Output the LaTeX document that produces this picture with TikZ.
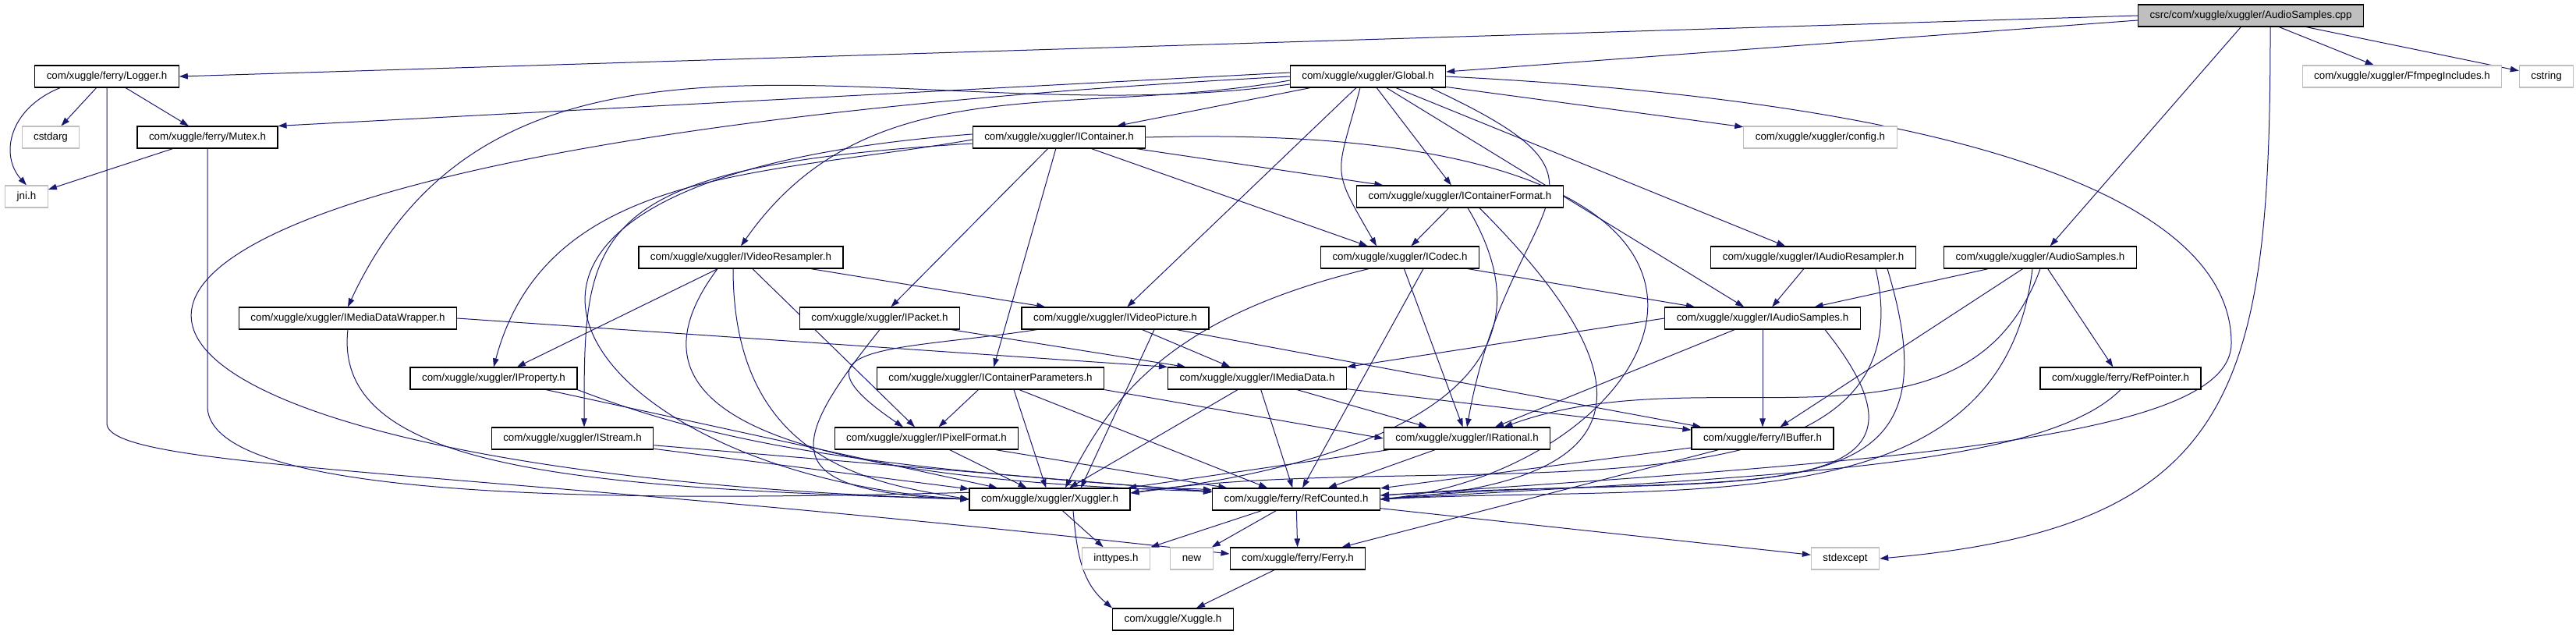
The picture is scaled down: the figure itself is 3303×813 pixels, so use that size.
\documentclass[tikz,border=0pt]{standalone}
\usepackage{fontspec}
\setmainfont{Liberation Sans}
\usetikzlibrary{arrows.meta}
\definecolor{incblue}{HTML}{191970}
\definecolor{sysgray}{HTML}{BFBFBF}
\pgfdeclarelayer{bg}
\pgfdeclarelayer{edges}
\pgfsetlayers{bg,edges,main}

\begin{document}
\begin{tikzpicture}[x=0.1mm, y=0.1mm,
    every node/.style={font=\fontsize{3.8}{4.5}\selectfont},
    hfile/.style={draw=black, fill=white, line width=0.12mm, minimum height=2.8mm, inner xsep=1.5mm, inner ysep=0pt},
    sysfile/.style={hfile, draw=sysgray},
    srcfile/.style={hfile, fill=sysgray},
    inc/.style={-{Triangle[length=1.1mm, width=0.75mm]}, draw=incblue, line width=0.1mm}]
    \useasboundingbox (0,0) rectangle (3303,-813);
    \begin{pgfonlayer}{bg}
        \fill[white] (0,0) rectangle (3303,-813);
    \end{pgfonlayer}

    % the source file
    \node[srcfile] (cpp) at (2886,-20) {csrc/com/xuggle/xuggler/AudioSamples.cpp};

    % rank 1
    \node[hfile] (logger) at (137,-98) {com/xuggle/ferry/Logger.h};
    \node[hfile] (global) at (1754,-98) {com/xuggle/xuggler/Global.h};
    \node[sysfile] (ffmpeg) at (3080,-98) {com/xuggle/xuggler/FfmpegIncludes.h};
    \node[sysfile] (cstring) at (3265,-98) {cstring};

    % rank 2
    \node[sysfile] (cstdarg) at (65,-176) {cstdarg};
    \node[hfile] (mutex) at (266,-176) {com/xuggle/ferry/Mutex.h};
    \node[hfile] (icontainer) at (1358,-176) {com/xuggle/xuggler/IContainer.h};
    \node[sysfile] (config) at (2334,-176) {com/xuggle/xuggler/config.h};

    % rank 3
    \node[sysfile] (jni) at (34,-252) {jni.h};
    \node[hfile] (icformat) at (1872,-252) {com/xuggle/xuggler/IContainerFormat.h};

    % rank 4
    \node[hfile] (ivresampler) at (950,-330) {com/xuggle/xuggler/IVideoResampler.h};
    \node[hfile] (icodec) at (1795,-330) {com/xuggle/xuggler/ICodec.h};
    \node[hfile] (iaresampler) at (2325,-330) {com/xuggle/xuggler/IAudioResampler.h};
    \node[hfile] (audiosamples) at (2616,-330) {com/xuggle/xuggler/AudioSamples.h};

    % rank 5
    \node[hfile] (imdwrapper) at (446,-408) {com/xuggle/xuggler/IMediaDataWrapper.h};
    \node[hfile] (ipacket) at (1128,-408) {com/xuggle/xuggler/IPacket.h};
    \node[hfile] (ivpicture) at (1430,-408) {com/xuggle/xuggler/IVideoPicture.h};
    \node[hfile] (iasamples) at (2260,-408) {com/xuggle/xuggler/IAudioSamples.h};

    % rank 6
    \node[hfile] (iproperty) at (633,-485) {com/xuggle/xuggler/IProperty.h};
    \node[hfile] (icparams) at (1270,-485) {com/xuggle/xuggler/IContainerParameters.h};
    \node[hfile] (imediadata) at (1612,-485) {com/xuggle/xuggler/IMediaData.h};
    \node[hfile] (refpointer) at (2719,-485) {com/xuggle/ferry/RefPointer.h};

    % rank 7
    \node[hfile] (istream) at (734,-562) {com/xuggle/xuggler/IStream.h};
    \node[hfile] (ipixfmt) at (1188,-562) {com/xuggle/xuggler/IPixelFormat.h};
    \node[hfile] (irational) at (1881,-562) {com/xuggle/xuggler/IRational.h};
    \node[hfile] (ibuffer) at (2260,-562) {com/xuggle/ferry/IBuffer.h};

    % rank 8
    \node[hfile] (xuggler) at (1346,-640) {com/xuggle/xuggler/Xuggler.h};
    \node[hfile] (refcounted) at (1662,-640) {com/xuggle/ferry/RefCounted.h};

    % rank 9 and 10
    \node[sysfile] (inttypes) at (1431,-716) {inttypes.h};
    \node[sysfile] (stdnew) at (1528,-716) {new};
    \node[hfile] (ferry) at (1664,-716) {com/xuggle/ferry/Ferry.h};
    \node[sysfile] (stdexcept) at (2366,-716) {stdexcept};
    \node[hfile] (xuggle) at (1504,-794) {com/xuggle/Xuggle.h};

    \begin{pgfonlayer}{edges}
    % AudioSamples.cpp
    \draw[inc] (cpp.west) -- (logger.east);
    \draw[inc] ([yshift=-0.6mm]cpp.west) -- ([yshift=0.6mm]global.east);
    \draw[inc] (cpp) -- (audiosamples);
    \draw[inc] (cpp) -- (ffmpeg);
    \draw[inc] (cpp) -- (cstring);
    \draw[inc] ([xshift=2.5mm]cpp.south) to[out=-90, in=5, looseness=1.4] (stdexcept.east);

    % Logger.h and Mutex.h
    \draw[inc] (logger) -- (cstdarg);
    \draw[inc] (logger) -- (mutex);
    \draw[inc] ([xshift=-6mm]logger.south) .. controls (10,-140) and (0,-200) .. (jni.north);
    \draw[inc] (logger.south) -- ++(0,-430) .. controls +(0,-60) and (600,-600) .. ([yshift=0.6mm]ferry.west);
    \draw[inc] (mutex) -- (jni);
    \draw[inc] (mutex.south) -- ++(0,-330) to[out=-90, in=176, looseness=0.35] ([yshift=1.2mm]refcounted.west);

    % Global.h
    \draw[inc] ([yshift=0.5mm]global.west) -- (mutex.north east);
    \draw[inc] (global) -- (icontainer);
    \draw[inc] (global) -- (icformat);
    \draw[inc] ([xshift=-1mm]global.south) to[out=-105, in=120, looseness=1.5] ([xshift=-3mm]icodec.north);
    \draw[inc] (global) -- (config);
    \draw[inc] (global) -- (iaresampler);
    \draw[inc] ([yshift=-0.5mm]global.west) to[out=190, in=55] (ivresampler.north);
    \draw[inc] ([yshift=-1mm]global.west) to[out=188, in=65] (imdwrapper.north);
    \draw[inc] (global) -- (ivpicture);
    \draw[inc] (global) -- (iasamples);
    \draw[inc] ([xshift=-2mm]global.south east) to[out=-25, in=80, looseness=1.8] (irational.north);
    \draw[inc] (global.west) .. controls +(-1900,-100) and +(-1300,40) .. (xuggler.west);
    \draw[inc] (global.east) .. controls (2500,-130) and (2861,-250) .. (2861,-440)
        .. controls (2861,-560) and (2450,-590) .. ([yshift=0.5mm]refcounted.east);

    % IContainer.h
    \draw[inc] (icontainer) -- (icformat);
    \draw[inc] (icontainer) -- (icodec);
    \draw[inc] (icontainer) -- (ipacket);
    \draw[inc] (icontainer) -- (icparams);
    \draw[inc] ([yshift=-0.3mm]icontainer.west) to[out=190, in=75] (iproperty.north);
    \draw[inc] ([yshift=-0.8mm]icontainer.west) .. controls +(-500,-30) and +(0,250) .. ([xshift=1.5mm]istream.north);
    \draw[inc] ([yshift=0.4mm]icontainer.west) .. controls +(-800,-60) and +(-500,30) .. (xuggler.west);
    \draw[inc] (icontainer.east) .. controls (2400,-150) and (2150,-600) .. (refcounted.east);

    % IContainerFormat.h and ICodec.h
    \draw[inc] (icformat) -- (icodec);
    \draw[inc] ([xshift=1mm]icformat.south) .. controls +(150,-250) and +(250,30) .. ([yshift=0.8mm]xuggler.east);
    \draw[inc] ([xshift=2.5mm]icformat.south) .. controls +(250,-250) and +(300,20) .. (refcounted.east);
    \draw[inc] (icodec) -- (iasamples);
    \draw[inc] (icodec) -- (irational);
    \draw[inc] ([xshift=-4mm]icodec.south) .. controls +(-250,-60) and +(60,120) .. ([xshift=2mm]xuggler.north);
    \draw[inc] ([xshift=3mm]icodec.south) -- (refcounted);

    % IVideoResampler.h
    \draw[inc] (ivresampler) -- (ivpicture);
    \draw[inc] (ivresampler) -- (iproperty);
    \draw[inc] (ivresampler) -- (ipixfmt);
    \draw[inc] ([xshift=-1mm]ivresampler.south) .. controls +(0,-250) and +(-120,20) .. (xuggler.west);
    \draw[inc] ([xshift=-3mm]ivresampler.south) .. controls +(-150,-200) and +(-500,15) .. ([yshift=1mm]refcounted.west);

    % IAudioResampler.h and AudioSamples.h
    \draw[inc] (iaresampler) -- (iasamples);
    \draw[inc] ([xshift=8mm]iaresampler.south) .. controls +(80,-350) and +(400,60) .. ([yshift=0.8mm]xuggler.east);
    \draw[inc] ([xshift=9.5mm]iaresampler.south) .. controls +(100,-330) and +(500,30) .. ([yshift=0.5mm]refcounted.east);
    \draw[inc] (audiosamples) -- (iasamples);
    \draw[inc] (audiosamples) -- (refpointer);
    \draw[inc] (audiosamples) -- (ibuffer);
    \draw[inc] (audiosamples.south) to[out=-110, in=20] ([xshift=-6mm]irational.north east);
    \draw[inc] ([xshift=-1mm]audiosamples.south) .. controls +(-40,-330) and +(400,20) .. (refcounted.east);

    % rank 5
    \draw[inc] (imdwrapper.east) -- (imediadata.north west);
    \draw[inc] (imdwrapper.south) .. controls +(-20,-180) and +(-500,15) .. (xuggler.west);
    \draw[inc] (ipacket) -- (imediadata);
    \draw[inc] (ipacket.south) .. controls +(-120,-150) and +(-250,10) .. (xuggler.west);
    \draw[inc] (ivpicture) -- (imediadata);
    \draw[inc] ([xshift=2mm]ivpicture.south west) .. controls (1150,-450) and (1000,-440) .. ([xshift=-3mm]ipixfmt.north);
    \draw[inc] ([xshift=5mm]ivpicture.south) -- ([xshift=4mm]xuggler.north);
    \draw[inc] (ivpicture) -- (ibuffer);
    \draw[inc] (iasamples.west) -- (imediadata.north east);
    \draw[inc] (iasamples) -- (irational);
    \draw[inc] (iasamples) -- (ibuffer);
    \draw[inc] ([xshift=8mm]iasamples.south) .. controls +(200,-250) and +(400,40) .. (refcounted.east);

    % rank 6
    \draw[inc] (iproperty) -- (xuggler);
    \draw[inc] (iproperty.south east) .. controls (950,-580) and (1150,-600) .. ([yshift=1mm]refcounted.west);
    \draw[inc] (icparams) -- (ipixfmt);
    \draw[inc] ([xshift=3mm]icparams.south) -- (xuggler);
    \draw[inc] (icparams.south east) -- (irational.west);
    \draw[inc] (icparams) -- (refcounted);
    \draw[inc] (imediadata) -- (irational);
    \draw[inc] (imediadata) -- (ibuffer);
    \draw[inc] (imediadata) -- (xuggler);
    \draw[inc] (imediadata) -- (refcounted);
    \draw[inc] (refpointer.south) .. controls +(-100,-100) and +(500,30) .. (refcounted.east);

    % rank 7
    \draw[inc] (istream) -- (xuggler);
    \draw[inc] (istream) -- (refcounted);
    \draw[inc] (ipixfmt) -- (xuggler);
    \draw[inc] (ipixfmt) -- (refcounted);
    \draw[inc] (irational) -- (xuggler);
    \draw[inc] (irational) -- (refcounted);
    \draw[inc] (ibuffer) -- (refcounted);
    \draw[inc] (ibuffer) -- (ferry);

    % Xuggler.h, RefCounted.h, Ferry.h
    \draw[inc] (xuggler) -- (inttypes);
    \draw[inc] ([xshift=3mm]xuggler.south) to[out=-85, in=140] (xuggle.north west);
    \draw[inc] (refcounted) -- (inttypes);
    \draw[inc] (refcounted) -- (stdnew);
    \draw[inc] (refcounted) -- (ferry);
    \draw[inc] (refcounted) -- (stdexcept);
    \draw[inc] (ferry) -- (xuggle);
    \end{pgfonlayer}
\end{tikzpicture}
\end{document}
